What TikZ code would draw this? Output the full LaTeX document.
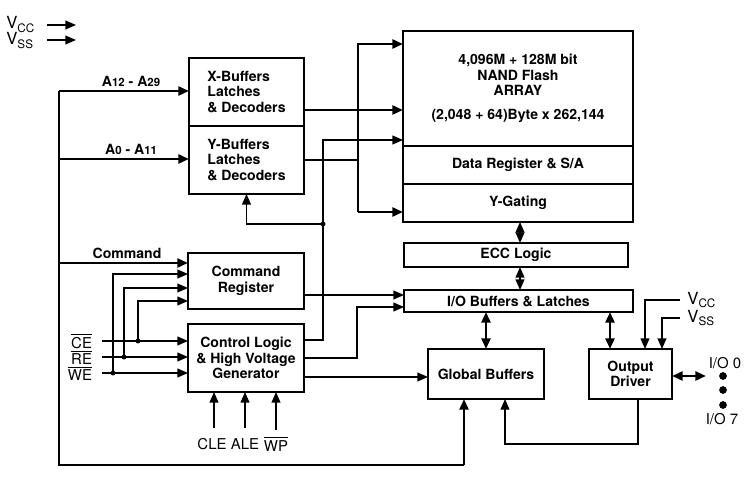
\documentclass[tikz,border=0pt]{standalone}
\usepackage{fontspec}
\setmainfont{TeX Gyre Heros}
\usetikzlibrary{arrows.meta, positioning, calc}

\begin{document}
\begin{tikzpicture}[
    x=0.02cm, y=-0.02cm,
    >={Triangle[length=6pt,width=5pt]},
    font=\fontsize{8}{8.8}\selectfont,
    % box styles
    blockbox/.style={rectangle, draw, line width=0.75pt, outer sep=0pt, align=center, inner sep=1pt, font=\fontsize{8}{8.8}\selectfont\bfseries},
    buslabel/.style={inner sep=1.5pt, font=\fontsize{8}{8.8}\selectfont\bfseries},
    pinlabel/.style={inner sep=1pt, font=\fontsize{8.5}{9}\selectfont},
    powerlabel/.style={inner sep=0pt, font=\fontsize{9.5}{9.5}\selectfont},
    busline/.style={line width=1.5pt},
    sigline/.style={line width=0.75pt},
    junction/.style={circle, fill, inner sep=0pt, minimum size=2.8pt},
    iodot/.style={circle, fill, inner sep=0pt, minimum size=4.4pt}
]
\useasboundingbox (0,0) rectangle (750,479);

% -------------------------
% BLOCKS
% -------------------------
\node[blockbox, align=left, minimum width=2.3cm, minimum height=1.36cm] (xbuf) at (246.5,92) {X-Buffers\\Latches\\\& Decoders};
\node[blockbox, align=left, minimum width=2.3cm, minimum height=1.36cm, below=0pt of xbuf] (ybuf) {Y-Buffers\\Latches\\\& Decoders};

\node[blockbox, minimum width=4.6cm, minimum height=2.3cm] (array) at (518,88.5) {
    4,096M + 128M bit\\NAND Flash\\ARRAY\\[5pt](2,048 + 64)Byte x 262,144
};
\node[blockbox, minimum width=4.6cm, minimum height=0.76cm, below=0pt of array] (datareg) {Data Register \& S/A};
\node[blockbox, minimum width=4.6cm, minimum height=0.76cm, below=0pt of datareg] (ygate) {Y-Gating};

\node[blockbox, minimum width=4.48cm, minimum height=0.48cm] (ecc) at (516,255) {ECC Logic};
\node[blockbox, minimum width=4.58cm, minimum height=0.44cm] (iobuf) at (518.5,301) {I/O Buffers \& Latches};

\node[blockbox, minimum width=2.32cm, minimum height=1.12cm] (cmdreg) at (246,281) {Command\\Register};
\node[blockbox, minimum width=2.32cm, minimum height=1.36cm] (ctrl) at (246,358) {Control Logic\\\& High Voltage\\Generator};

\node[blockbox, minimum width=2.32cm, minimum height=1cm] (globbuf) at (486,374) {Global Buffers};
\node[blockbox, minimum width=1.66cm, minimum height=1cm] (outdrv) at (630.5,374) {Output\\Driver};

% -------------------------
% SUPPLY (top left)
% -------------------------
\node[powerlabel, anchor=base west] (vcc_top) at (6,29) {V\textsubscript{CC}};
\node[powerlabel, anchor=base west] (vss_top) at (6,45) {V\textsubscript{SS}};
\coordinate (vcc_a) at (47,25);
\coordinate (vcc_b) at (76,25);
\coordinate (vss_a) at (47,40);
\coordinate (vss_b) at (76,40);
\draw[sigline, ->] (vcc_a) -- (vcc_b);
\draw[sigline, ->] (vss_a) -- (vss_b);

% -------------------------
% ADDRESS / COMMAND BUS
% -------------------------
\coordinate (bus_top) at (59,91);
\coordinate (bus_a0) at (59,159);
\coordinate (bus_cmd) at (59,263);
\coordinate (bus_bot) at (59,465);
\coordinate (bus_end) at (464,465);

\draw[busline] (bus_top) -- (bus_bot) -- (bus_end);
\draw[busline, ->] (bus_end) -- (bus_end |- globbuf.south);
\draw[busline, ->] (bus_top) -- (bus_top -| xbuf.west)
    node[midway, above, buslabel, xshift=4pt] {A{\fontsize{6.5}{7}\selectfont 12} - A{\fontsize{6.5}{7}\selectfont 29}};
\draw[busline, ->] (bus_a0) -- (bus_a0 -| ybuf.west)
    node[midway, above, buslabel, xshift=4pt] {A{\fontsize{6.5}{7}\selectfont 0} - A{\fontsize{6.5}{7}\selectfont 11}};
\draw[busline, ->] (bus_cmd) -- (bus_cmd -| cmdreg.west)
    node[midway, above, buslabel, xshift=2pt] {Command};

% X / Y decoders to the array
\coordinate (x_out) at ($(xbuf.east)+(0,18)$);
\coordinate (arr_bus_top) at (358,44);
\coordinate (arr_bus_bot) at (358,212);
\draw[busline, ->] (x_out) -- (x_out -| array.west);
\draw[busline] (ybuf.east) -- (ybuf.east -| arr_bus_top);
\draw[busline, ->] (arr_bus_bot) -- (arr_bus_top) -- (arr_bus_top -| array.west);
\draw[busline, ->] (arr_bus_bot) -- (arr_bus_bot -| ygate.west);

% -------------------------
% CONTROL SIGNALS
% -------------------------
\coordinate (ctrl_o1) at ($(ctrl.east)+(0,-18)$);
\coordinate (ctl_split) at (323,224);
\coordinate (arr_in2) at ($(array.west)+(0,51.5)$);
\draw[sigline, ->] (ctrl_o1) -| (ctl_split) |- (arr_in2);
\node[junction] (dot_split) at (ctl_split) {};
\draw[sigline, ->] (ctl_split) -| (ybuf.south);

\coordinate (io_in1) at ($(iobuf.west)+(0,-6)$);
\coordinate (io_in2) at ($(iobuf.west)+(0,6)$);
\draw[sigline, ->] (io_in1 -| cmdreg.east) -- (io_in1);
\draw[sigline, ->] (ctrl.east) -- ++(53,0) |- (io_in2);

\coordinate (ctrl_o3) at ($(ctrl.east)+(0,19)$);
\draw[sigline, ->] (ctrl_o3) -- (ctrl_o3 -| globbuf.west);

% chip enable / read / write inputs
\node[pinlabel, anchor=east, inner xsep=5.5pt] (ce_lbl) at (102,341) {$\overline{\mbox{CE}}$};
\node[pinlabel, anchor=east, inner xsep=5.5pt] (re_lbl) at (102,357) {$\overline{\mbox{RE}}$};
\node[pinlabel, anchor=east, inner xsep=5.5pt] (we_lbl) at (102,373) {$\overline{\mbox{WE}}$};
\draw[sigline, ->] (ce_lbl.east) -- (ce_lbl.east -| ctrl.west);
\draw[sigline, ->] (re_lbl.east) -- (re_lbl.east -| ctrl.west);
\draw[sigline, ->] (we_lbl.east) -- (we_lbl.east -| ctrl.west);

\coordinate (ce_dot) at (138,341);
\coordinate (re_dot) at (124,357);
\coordinate (we_dot) at (113,373);
\node[junction] (ce_j) at (ce_dot) {};
\node[junction] (re_j) at (re_dot) {};
\node[junction] (we_j) at (we_dot) {};
\draw[sigline, ->] (ce_dot) |- ($(cmdreg.west)+(0,20)$);
\draw[sigline, ->] (re_dot) |- ($(cmdreg.west)+(0,7)$);
\draw[sigline, ->] (we_dot) |- ($(cmdreg.west)+(0,-7)$);

% latch enables / write protect
\node[pinlabel, anchor=base, text height=8pt, inner ysep=4pt] (cle_lbl) at (212,449) {CLE};
\node[pinlabel, anchor=base, text height=8pt, inner ysep=4pt] (ale_lbl) at (245,449) {ALE};
\node[pinlabel, anchor=base, text height=8pt, inner ysep=4pt] (wp_lbl) at (276,451) {$\overline{\mbox{WP}}$};
\draw[sigline, ->] (cle_lbl.north -| 214,0) -- (214,0 |- ctrl.south);
\draw[sigline, ->] (ale_lbl.north) -- (ale_lbl.north |- ctrl.south);
\draw[sigline, ->] (wp_lbl.north) -- (wp_lbl.north |- ctrl.south);

% -------------------------
% DATA PATH
% -------------------------
\coordinate (data_col) at (520,0);
\draw[sigline, <->] (data_col |- ygate.south) -- (data_col |- ecc.north);
\draw[sigline, <->] (data_col |- ecc.south) -- (data_col |- iobuf.north);

\coordinate (drv_col) at (610,0);
\draw[busline, <->] (globbuf.north |- iobuf.south) -- (globbuf.north);
\draw[busline, <->] (drv_col |- iobuf.south) -- (drv_col |- outdrv.north);

% output driver supply
\node[powerlabel, anchor=west, inner xsep=4pt] (vcc_drv) at (680,300) {V\textsubscript{CC}};
\node[powerlabel, anchor=west, inner xsep=4pt] (vss_drv) at (680,318) {V\textsubscript{SS}};
\draw[sigline, ->] (vcc_drv.west) -| ($(outdrv.north)+(14.5,0)$);
\draw[sigline, ->] (vss_drv.west) -| ($(outdrv.north)+(31.5,0)$);

% I/O pins
\coordinate (io_pin) at (706,376);
\draw[busline, <->] (io_pin -| outdrv.east) -- (io_pin);
\node[pinlabel] (io0_lbl) at (725,363) {I/O 0};
\node[iodot] (io_d1) at (723,376) {};
\node[iodot] (io_d2) at (723,390) {};
\node[iodot] (io_d3) at (723,405) {};
\node[pinlabel] (io7_lbl) at (722,419) {I/O 7};

% feedback from output driver
\coordinate (drv_fb) at (638,444);
\coordinate (glob_fb) at (505,444);
\draw[sigline, ->] (drv_fb |- outdrv.south) -- (drv_fb) -- (glob_fb) -- (glob_fb |- globbuf.south);

\end{tikzpicture}
\end{document}
